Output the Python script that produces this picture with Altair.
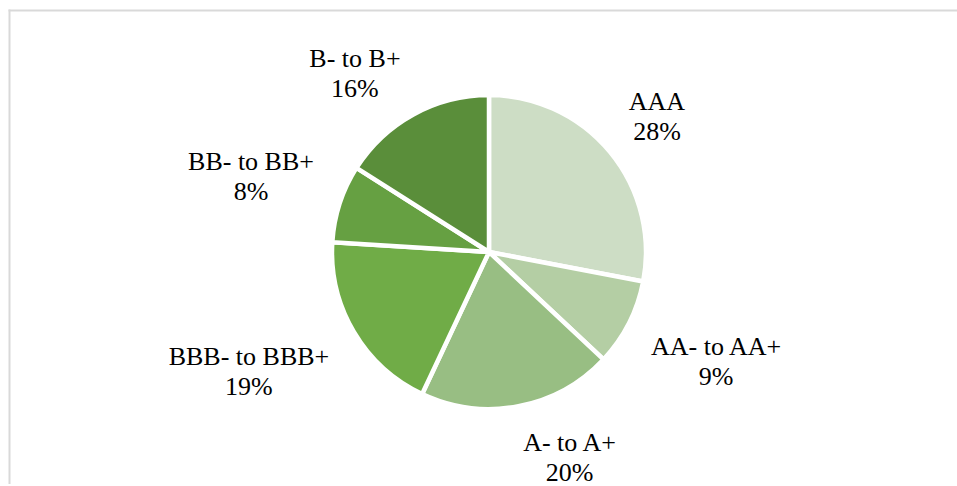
import altair as alt
import pandas as pd

categories = ["AAA", "AA- to AA+", "A- to A+", "BBB- to BBB+", "BB- to BB+", "B- to B+"]
shares = [28, 9, 20, 19, 8, 16]
colors = ["#CDDDC5", "#B4CEA4", "#98BE83", "#70AC47", "#66A042", "#5A8E3A"]

df = pd.DataFrame({"category": categories, "share": shares, "order": list(range(len(categories)))})
one = pd.DataFrame({"k": [0]})

W, H = 936, 464

base = alt.Chart(df)

pie = base.mark_arc(radius=157, stroke="white", strokeWidth=4.5).encode(
    theta=alt.Theta("share:Q", stack=True),
    order=alt.Order("order:Q"),
    color=alt.Color("category:N", scale=alt.Scale(domain=categories, range=colors), legend=None),
)

labels = (
    base.transform_joinaggregate(total="sum(share)")
    .transform_window(cum="sum(share)", sort=[alt.SortField("order")], frame=[None, 0])
    .transform_calculate(pct="datum.share + '%'")
    .transform_calculate(a="(datum.cum - datum.share / 2) / datum.total * 2 * PI")
    .transform_calculate(up="length(replace(datum.category, regexp('[^A-Z]', 'g'), ''))")
    .transform_calculate(w="(datum.up * 18.5 + (length(datum.category) - datum.up) * 9.3) / 2")
    .transform_calculate(ax="182 * sin(datum.a)")
    .transform_calculate(ay="-182 * cos(datum.a)")
    .transform_calculate(cx="datum.ax + (sin(datum.a) >= 0 ? datum.w : -datum.w)")
    .transform_calculate(cy="datum.ay + (cos(datum.a) > 0 ? -23 : 23)")
    .transform_calculate(r="sqrt(datum.cx * datum.cx + datum.cy * datum.cy)")
    .transform_calculate(t="atan2(datum.cx, -datum.cy)")
    .transform_calculate(lines="datum.category + '|' + datum.pct")
    .mark_text(font="Liberation Serif", fontSize=26, lineHeight=30, align="center",
               baseline="middle", color="black", lineBreak="|", dy=-11)
    .encode(
        theta=alt.Theta("t:Q", scale=None, stack=None),
        radius=alt.Radius("r:Q", scale=None),
        text="lines:N",
    )
)

frame_left = alt.Chart(one).mark_rule(color="#D9D9D9", strokeWidth=2).encode(
    x=alt.value(-11.5), y=alt.value(-10.5), y2=alt.value(470)
)
frame_top = alt.Chart(one).mark_rule(color="#D9D9D9", strokeWidth=2).encode(
    y=alt.value(-9.5), x=alt.value(-12.5), x2=alt.value(940)
)

chart = (
    alt.layer(frame_left, frame_top, pie, labels)
    .properties(width=W, height=H, padding={"left": 21, "top": 20, "right": 0, "bottom": 0},
                autosize="none", background="white")
    .configure_view(stroke=None)
)

chart.save("out.html", embed_options={"renderer": "svg", "actions": False})
